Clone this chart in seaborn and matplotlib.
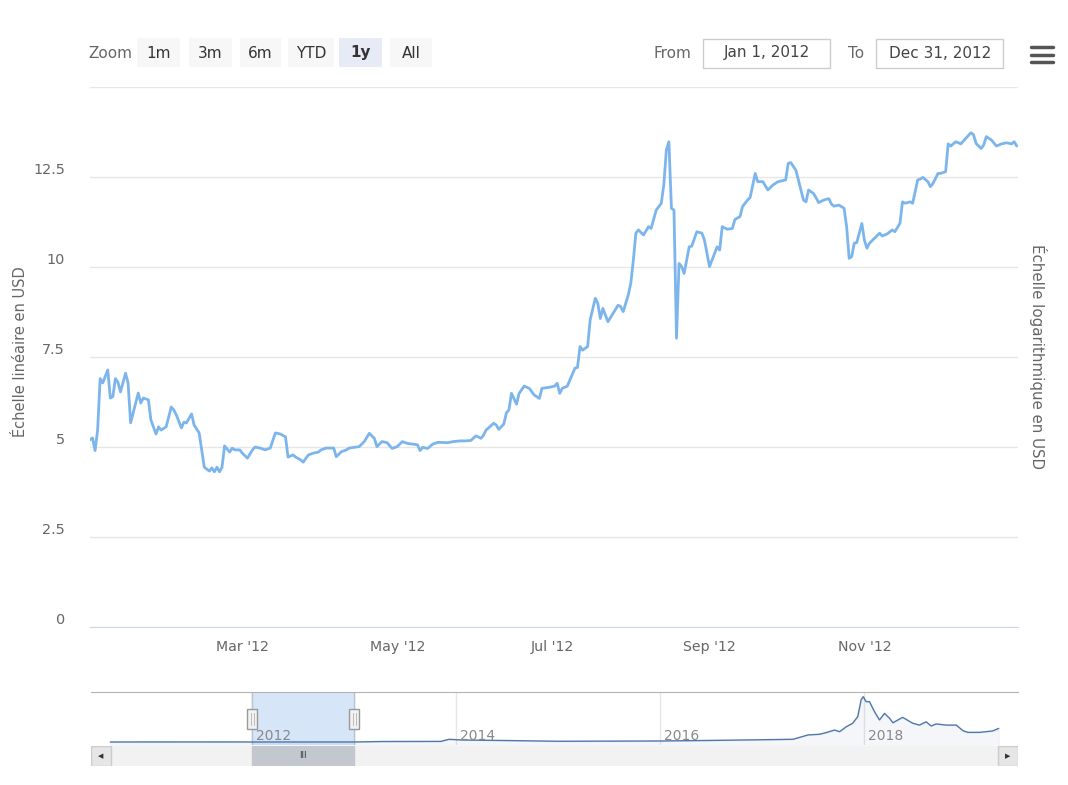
import pandas as pd
import matplotlib.pyplot as plt
import matplotlib.dates as mdates
import matplotlib.transforms as mtransforms
from matplotlib.patches import Rectangle
import seaborn as sns

# daily price in 2012 (day index from Jan 1)
days = [0, 1, 2, 3, 4, 5, 7, 8, 9, 10, 11, 12, 14, 15, 16, 18, 19, 20, 21, 23, 24, 26, 27, 28, 30,
        32, 33, 34, 36, 37, 38, 40, 41, 43, 45, 47, 48, 49, 50, 51, 52, 53, 55, 56, 57, 59, 60, 62,
        64, 65, 67, 69, 71, 73, 75, 77, 78, 80, 81, 83, 84, 86, 88, 90, 91, 93, 95, 96, 97, 99, 101,
        102, 104, 106, 108, 110, 112, 113, 115, 117, 119, 121, 123, 125, 127, 129, 130, 131, 133,
        135, 137, 141, 143, 146, 148, 150, 152, 154, 155, 156, 159, 160, 161, 163, 164, 165, 166,
        168, 169, 171, 173, 175, 177, 178, 181, 183, 184, 185, 186, 188, 189, 191, 192, 193, 194,
        196, 197, 199, 200, 201, 202, 204, 206, 208, 209, 210, 212, 213, 214, 215, 216, 218, 220,
        221, 223, 225, 226, 227, 228, 229, 230, 231, 232, 233, 234, 236, 237, 239, 241, 242, 244,
        246, 247, 248, 249, 251, 253, 254, 256, 257, 259, 260, 262, 263, 265, 267, 269, 271, 274,
        275, 276, 278, 279, 281, 282, 283, 285, 287, 289, 291, 292, 293, 295, 297, 298, 299, 300,
        301, 302, 304, 305, 306, 307, 309, 311, 312, 314, 316, 317, 319, 320, 321, 323, 324, 326,
        327, 328, 330, 331, 332, 334, 335, 337, 338, 339, 341, 343, 345, 347, 348, 349, 351, 352,
        353, 355, 357, 359, 361, 363, 364, 365]
prices = [5.2, 5.25, 4.9, 5.47, 6.9, 6.78, 7.14, 6.36, 6.4, 6.9, 6.8, 6.53, 7.05, 6.78, 5.67, 6.22,
          6.5, 6.22, 6.36, 6.31, 5.75, 5.36, 5.56, 5.47, 5.56, 6.11, 6.03, 5.89, 5.53, 5.69, 5.67,
          5.92, 5.61, 5.39, 4.44, 4.33, 4.42, 4.31, 4.44, 4.31, 4.44, 5.03, 4.86, 4.97, 4.92, 4.92,
          4.83, 4.69, 4.92, 5.0, 4.97, 4.92, 4.97, 5.39, 5.36, 5.28, 4.72, 4.78, 4.72, 4.64, 4.58,
          4.78, 4.83, 4.86, 4.92, 4.97, 4.97, 4.97, 4.73, 4.87, 4.92, 4.97, 4.99, 5.01, 5.15, 5.38,
          5.24, 5.01, 5.15, 5.12, 4.96, 5.01, 5.15, 5.1, 5.08, 5.06, 4.9, 4.99, 4.96, 5.08, 5.13,
          5.12, 5.15, 5.17, 5.17, 5.18, 5.31, 5.24, 5.33, 5.47, 5.66, 5.61, 5.49, 5.64, 5.95, 6.03,
          6.49, 6.19, 6.49, 6.69, 6.63, 6.44, 6.35, 6.63, 6.66, 6.69, 6.77, 6.49, 6.63, 6.69, 6.86,
          7.19, 7.21, 7.79, 7.69, 7.79, 8.53, 9.13, 8.99, 8.57, 8.85, 8.48, 8.71, 8.94, 8.9, 8.76,
          9.22, 9.55, 10.19, 10.94, 11.03, 10.89, 11.12, 11.07, 11.58, 11.77, 12.28, 13.25, 13.48,
          11.63, 11.58, 8.02, 10.1, 10.01, 9.82, 10.56, 10.58, 10.98, 10.94, 10.75, 10.01, 10.38,
          10.56, 10.47, 11.12, 11.05, 11.07, 11.32, 11.4, 11.68, 11.86, 11.93, 12.6, 12.37, 12.37,
          12.14, 12.28, 12.37, 12.42, 12.88, 12.9, 12.69, 12.42, 11.86, 11.81, 12.14, 12.04, 11.79,
          11.86, 11.9, 11.75, 11.69, 11.72, 11.63, 11.12, 10.24, 10.29, 10.66, 10.68, 11.21, 10.75,
          10.52, 10.66, 10.8, 10.94, 10.86, 10.92, 11.03, 10.98, 11.21, 11.81, 11.77, 11.81, 11.77,
          12.42, 12.44, 12.49, 12.37, 12.23, 12.32, 12.6, 12.6, 12.65, 13.42, 13.36, 13.48, 13.42,
          13.58, 13.73, 13.67, 13.43, 13.29, 13.39, 13.62, 13.53, 13.36, 13.42, 13.45, 13.42, 13.48,
          13.36]

# full history shown in the navigator
nav_dates = ['2010-08-10', '2011-06-08', '2012-01-01', '2013-01-01', '2013-04-10', '2013-11-06',
             '2013-12-05', '2014-01-19', '2014-07-01', '2015-01-01', '2016-01-01', '2016-07-01',
             '2017-01-01', '2017-04-20', '2017-06-13', '2017-07-24', '2017-08-17', '2017-09-16',
             '2017-10-04', '2017-10-28', '2017-11-20', '2017-12-08', '2017-12-20', '2017-12-28',
             '2018-01-07', '2018-01-19', '2018-02-06', '2018-02-24', '2018-03-14', '2018-04-01',
             '2018-04-13', '2018-05-18', '2018-06-23', '2018-07-17', '2018-08-10', '2018-08-28',
             '2018-09-15', '2018-10-21', '2018-11-26', '2018-12-20', '2019-01-07', '2019-02-17',
             '2019-04-05', '2019-04-27']
nav_prices = [0.1, 30, 5, 13, 200, 250, 1150, 850, 620, 310, 430, 670, 960, 1150, 3000, 3300,
              4000, 5100, 4400, 6500, 8000, 10800, 17900, 19300, 17200, 17200, 12900, 9400, 12200,
              10100, 8200, 10500, 8000, 7200, 8600, 6800, 7700, 7200, 7200, 4800, 4100, 4100, 4700,
              5800]

range_start = '2012-01-01'
range_end = '2012-12-31'
y_ticks = [0, 2.5, 5, 7.5, 10, 12.5, 15]
y_labels = ['0', '2.5', '5', '7.5', '10', '12.5', '']
zoom_buttons = ['1m', '3m', '6m', 'YTD', '1y', 'All']
selected_button = '1y'
nav_years = [2012, 2014, 2016, 2018]

sns.set_style('white')
plt.rcParams['font.family'] = ['DejaVu Sans']

W, H = 1068, 785
fig = plt.figure(figsize=(W / 100, H / 100), dpi=100)
fig.patch.set_facecolor('white')


def fx(px):
    return px / W


def fy(py):
    return 1 - py / H


def box(x0, y0, x1, y1, fc, ec='none', lw=1.0):
    fig.add_artist(Rectangle((fx(x0), fy(y1)), fx(x1) - fx(x0), fy(y0) - fy(y1),
                             transform=fig.transFigure, facecolor=fc, edgecolor=ec, linewidth=lw))


grey = '#666666'

# ---- main chart
df = pd.DataFrame({'date': pd.Timestamp(range_start) + pd.to_timedelta(days, unit='D'),
                   'price': prices})
ax = fig.add_axes([fx(90), fy(627), fx(1018) - fx(90), fy(87) - fy(627)])
sns.lineplot(data=df, x='date', y='price', ax=ax, color='#7cb5ec', linewidth=2)
ax.set_xlim(pd.Timestamp(range_start), pd.Timestamp(range_end) + pd.Timedelta(hours=12))
ax.set_ylim(0, 15)
ax.set_xlabel('')
ax.set_ylabel('')
for s in ['top', 'left', 'right']:
    ax.spines[s].set_visible(False)
ax.spines['bottom'].set_color('#ccd6eb')
ax.set_yticks(y_ticks)
ax.set_yticklabels(y_labels)
ax.yaxis.grid(True, color='#e6e6e6', linewidth=1)
ax.xaxis.grid(False)
ax.set_axisbelow(True)
ax.tick_params(axis='y', length=0, labelsize=10.4, labelcolor=grey, pad=18)
ax.xaxis.set_major_locator(mdates.MonthLocator(bymonth=[3, 5, 7, 9, 11]))
ax.xaxis.set_major_formatter(mdates.DateFormatter("%b '%y"))
ax.tick_params(axis='x', length=7.2, width=0.8, color='#ccd6eb', labelsize=10.2,
               labelcolor=grey, pad=2)
shift = mtransforms.ScaledTranslation(0, 8 / 100, fig.dpi_scale_trans)
for lbl in ax.get_yticklabels():
    lbl.set_transform(lbl.get_transform() + shift)

fig.text(fx(21), fy(352), 'Échelle linéaire en USD', rotation=90, ha='center', va='center',
         color=grey, fontsize=10.5)
fig.text(fx(1038), fy(356), 'Échelle logarithmique en USD', rotation=270, ha='center',
         va='center', color=grey, fontsize=10.8)

# ---- range selector / input boxes
fig.text(fx(110), fy(53), 'Zoom', ha='center', va='center', color=grey, fontsize=11)
btn_pos = [(137, 180), (189, 232), (240, 281), (288, 334), (339, 382), (390, 432)]
for name, (x0, x1) in zip(zoom_buttons, btn_pos):
    sel = name == selected_button
    box(x0, 38, x1, 67, '#e6ebf5' if sel else '#f7f7f7')
    fig.text(fx((x0 + x1) / 2), fy(53), name, ha='center', va='center', color='#333333',
             fontsize=11, fontweight='bold' if sel else 'normal')

fig.text(fx(672), fy(53), 'From', ha='center', va='center', color=grey, fontsize=11)
box(703, 39, 830, 68, 'white', '#cccccc')
fig.text(fx(767), fy(53), pd.Timestamp(range_start).strftime('%b %-d, %Y'), ha='center',
         va='center', color='#444444', fontsize=11)
fig.text(fx(856), fy(53), 'To', ha='center', va='center', color=grey, fontsize=11)
box(876, 39, 1003, 68, 'white', '#cccccc')
fig.text(fx(940), fy(53), pd.Timestamp(range_end).strftime('%b %-d, %Y'), ha='center',
         va='center', color='#444444', fontsize=11)
for yy in [47, 54.5, 62]:
    fig.add_artist(plt.Line2D([fx(1031), fx(1053)], [fy(yy), fy(yy)], transform=fig.transFigure,
                              color='#555555', linewidth=2.5, solid_capstyle='round'))

# ---- navigator
nav_df = pd.DataFrame({'date': pd.to_datetime(nav_dates), 'price': nav_prices})
nav = fig.add_axes([fx(91), fy(745), fx(1018) - fx(91), fy(692) - fy(745)])
nav_lim = (pd.Timestamp('2010-06-02'), pd.Timestamp('2019-07-05'))
nav.axvspan(pd.Timestamp(range_start), pd.Timestamp(range_end), color='#d6e5f7', zorder=0)
sns.lineplot(data=nav_df, x='date', y='price', ax=nav, color='#4f77aa', linewidth=1, zorder=3)
nav.fill_between(nav_df['date'], nav_df['price'], -2000, color='#335cad', alpha=0.05, zorder=2)
nav.set_xlim(*nav_lim)
nav.set_ylim(-1280, 21300)
nav.set_xlabel('')
nav.set_ylabel('')
nav.set_yticks([])
year_dates = [pd.Timestamp(f'{y}-01-01') for y in nav_years]
nav.set_xticks(year_dates)
nav.set_xticklabels([])
nav.tick_params(axis='x', length=0)
nav.xaxis.grid(True, color='#e6e6e6', linewidth=1)
nav.set_axisbelow(True)
for s in ['left', 'right', 'bottom']:
    nav.spines[s].set_visible(False)
nav.spines['top'].set_color('#b3b3b3')
for d in [range_start, range_end]:
    nav.axvline(pd.Timestamp(d), color='#b8c4d4', linewidth=1, zorder=1)
lbl_off = mtransforms.offset_copy(nav.get_xaxis_transform(), fig=fig, x=4, y=0, units='dots')
for y, d in zip(nav_years, year_dates):
    nav.text(d, 0.17, str(y), transform=lbl_off, ha='left', va='center', color='#888888',
             fontsize=10, zorder=4)

# ---- scrollbar
sb = fig.add_axes([fx(91), fy(766), fx(1018) - fx(91), 20 / H])
sb.set_xlim(*nav_lim)
sb.set_ylim(0, 1)
sb.axis('off')
sb.add_patch(Rectangle((0, 0), 1, 1, transform=sb.transAxes, facecolor='#f2f2f2',
                       edgecolor='none'))
sb.axvspan(pd.Timestamp(range_start), pd.Timestamp(range_end), color='#c3c7ce', zorder=2)
mid = pd.Timestamp(range_start) + (pd.Timestamp(range_end) - pd.Timestamp(range_start)) / 2
sb.text(mid, 0.5, 'III', ha='center', va='center', fontsize=6, color='#333333', zorder=3)
bw = 20 / (1018 - 91)
for x0, arrow in [(0, '◀'), (1 - bw, '▶')]:
    sb.add_patch(Rectangle((x0, 0), bw, 1, transform=sb.transAxes, facecolor='#e6e6e6',
                           edgecolor='#cccccc', linewidth=1, zorder=3))
    sb.text(x0 + bw / 2, 0.5, arrow, transform=sb.transAxes, ha='center', va='center',
            fontsize=5, color='#333333', zorder=4)

# navigator handles, placed at the range ends
for d in [range_start, range_end]:
    xd = nav.transData.transform((mdates.date2num(pd.Timestamp(d)), 0))[0]
    xpx = xd / fig.dpi * 100
    box(xpx - 5, 709, xpx + 5, 729, '#f2f2f2', '#999999')
    for off in [-1.5, 1.5]:
        fig.add_artist(plt.Line2D([fx(xpx + off)] * 2, [fy(713), fy(725)],
                                  transform=fig.transFigure, color='#bbbbbb', linewidth=0.7))

fig.savefig('out.png', dpi=100)
